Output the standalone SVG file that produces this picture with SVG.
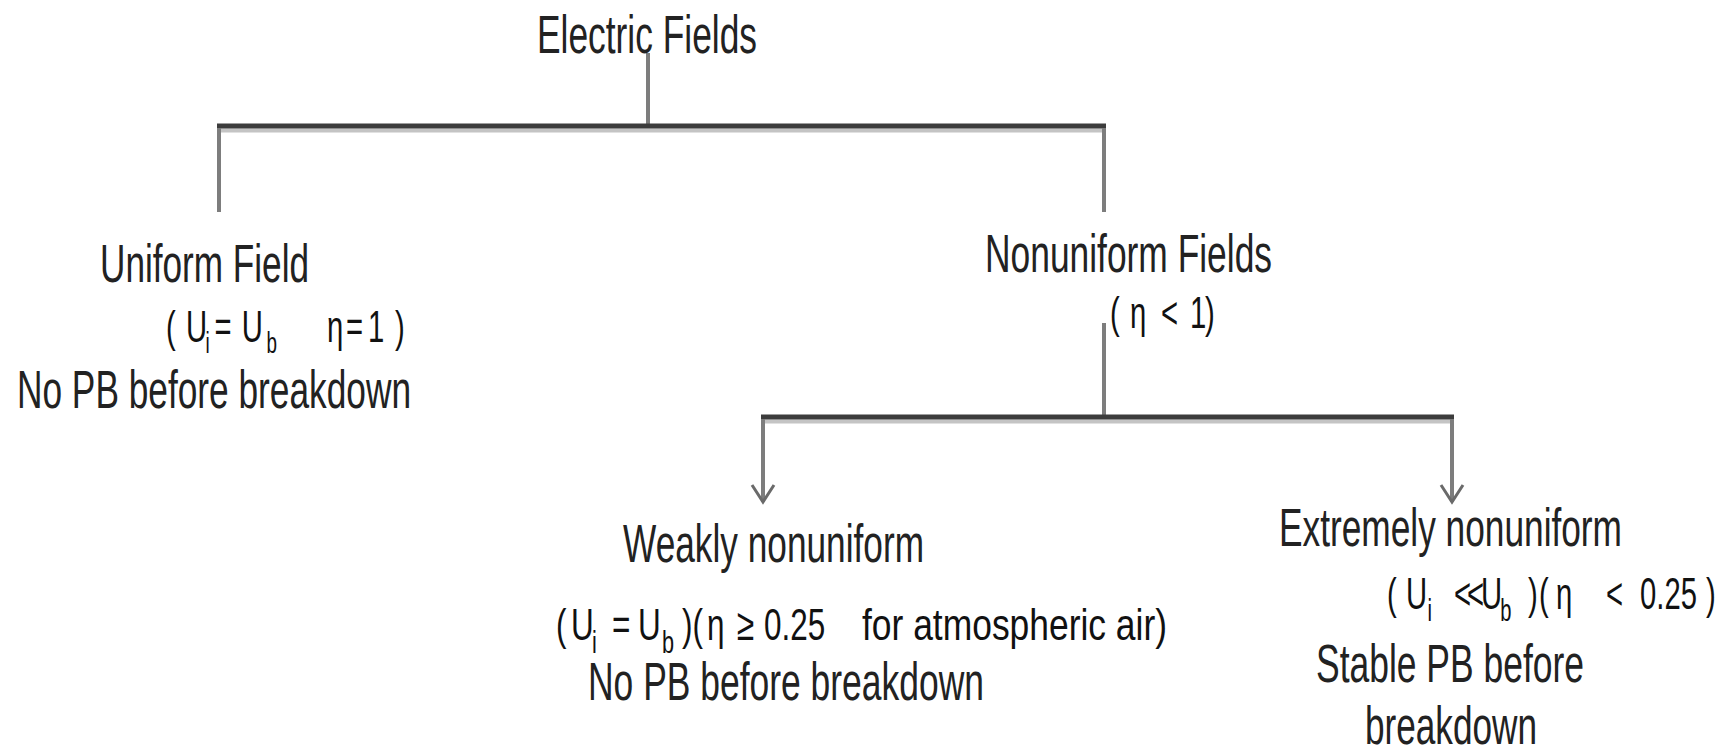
<svg xmlns="http://www.w3.org/2000/svg" width="1731" height="746" viewBox="0 0 1731 746">
<style>
.lbl{font-family:"Liberation Sans",Arial,sans-serif;font-size:54px;fill:#222}
.eq{font-family:"Liberation Sans",Arial,sans-serif;font-size:45px;fill:#111}
.sub{font-size:31px}
.dark{stroke:#3c3c3c;stroke-width:5;fill:none}
.shadow{stroke:#c4c4c4;stroke-width:4;fill:none}
.vert{stroke:#7d7d7d;stroke-width:4;fill:none}
</style>
<defs>
<marker id="vhead" markerUnits="userSpaceOnUse" orient="auto" refX="0" refY="0" markerWidth="40" markerHeight="40" overflow="visible">
<path d="M -17 -11 L 0 0 L -17 11" fill="none" stroke="#6a6a6a" stroke-width="3"/>
</marker>
</defs>
<rect width="1731" height="746" fill="#fff"/>
<g id="connectors">
<line class="vert" x1="648" y1="53" x2="648" y2="126"/>
<line class="shadow" x1="221" y1="130.5" x2="1102" y2="130.5"/>
<line class="dark" x1="217" y1="126" x2="1106" y2="126"/>
<line class="vert" x1="219" y1="128" x2="219" y2="212"/>
<line class="vert" x1="1104" y1="128" x2="1104" y2="212"/>
<line class="vert" x1="1104" y1="323" x2="1104" y2="415"/>
<line class="shadow" x1="765" y1="421.5" x2="1450" y2="421.5"/>
<line class="dark" x1="761" y1="417" x2="1454" y2="417"/>
<line class="vert" x1="763" y1="419" x2="763" y2="502" marker-end="url(#vhead)"/>
<line class="vert" x1="1452" y1="419" x2="1452" y2="502" marker-end="url(#vhead)"/>
</g>
<g id="electric-fields">
<text class="lbl" x="537" y="53" textLength="220" lengthAdjust="spacingAndGlyphs">Electric Fields</text>
</g>
<g id="uniform-field">
<text class="lbl" x="100" y="282" textLength="209" lengthAdjust="spacingAndGlyphs">Uniform Field</text>
<text class="eq" transform="scale(0.65,1)" y="342" font-size="41"><tspan x="255.4">(</tspan><tspan x="286.2">U</tspan><tspan x="316" y="353" font-size="29">i</tspan><tspan x="330" y="342">=</tspan><tspan x="372">U</tspan><tspan x="410" y="353" font-size="29">b</tspan><tspan x="503.1" y="342">η</tspan><tspan x="532.3">=</tspan><tspan x="566.2">1</tspan><tspan x="607.7">)</tspan></text>
<text class="lbl" x="17" y="408" textLength="394" lengthAdjust="spacingAndGlyphs">No PB before breakdown</text>
</g>
<g id="nonuniform-fields">
<text class="lbl" x="985" y="272" textLength="287" lengthAdjust="spacingAndGlyphs">Nonuniform Fields</text>
<text class="eq" transform="scale(0.65,1)" y="328" font-size="46"><tspan x="1707.7">(</tspan><tspan x="1738.5">η</tspan><tspan x="1786.2">&lt;</tspan><tspan x="1830.8">1</tspan><tspan x="1853.8">)</tspan></text>
</g>
<g id="weakly-nonuniform">
<text class="lbl" x="623" y="562" textLength="301" lengthAdjust="spacingAndGlyphs">Weakly nonuniform</text>
<text class="eq" transform="scale(0.7,1)" y="640"><tspan x="794.3">(</tspan><tspan x="815.7">U</tspan><tspan x="845.7" y="653" class="sub">i</tspan><tspan x="874.3" y="640">=</tspan><tspan x="911.4">U</tspan><tspan x="945.7" y="653" class="sub">b</tspan><tspan x="974.3" y="640">)(</tspan><tspan x="1010">η</tspan><tspan x="1052.9">≥</tspan><tspan x="1091.4">0.25</tspan></text>
<text class="eq" x="862" y="640" textLength="305" lengthAdjust="spacingAndGlyphs">for atmospheric air)</text>
<text class="lbl" x="588" y="700" textLength="396" lengthAdjust="spacingAndGlyphs">No PB before breakdown</text>
</g>
<g id="extremely-nonuniform">
<text class="lbl" x="1279" y="546" textLength="343" lengthAdjust="spacingAndGlyphs">Extremely nonuniform</text>
<text class="eq" transform="scale(0.65,1)" y="609"><tspan x="2133.8">(</tspan><tspan x="2163.1">U</tspan><tspan x="2196" y="621" class="sub">i</tspan><tspan x="2236.9" y="609">&lt;</tspan><tspan x="2256.9">&lt;</tspan><tspan x="2278.5">U</tspan><tspan x="2308" y="621" class="sub">b</tspan><tspan x="2350.8" y="609">)</tspan><tspan x="2367.7">(</tspan><tspan x="2393.8">η</tspan><tspan x="2470.8">&lt;</tspan><tspan x="2523.1">0.25</tspan><tspan x="2624.6">)</tspan></text>
<text class="lbl" x="1316" y="682" textLength="268" lengthAdjust="spacingAndGlyphs">Stable PB before</text>
<text class="lbl" x="1365" y="744" textLength="172" lengthAdjust="spacingAndGlyphs">breakdown</text>
</g>
</svg>
